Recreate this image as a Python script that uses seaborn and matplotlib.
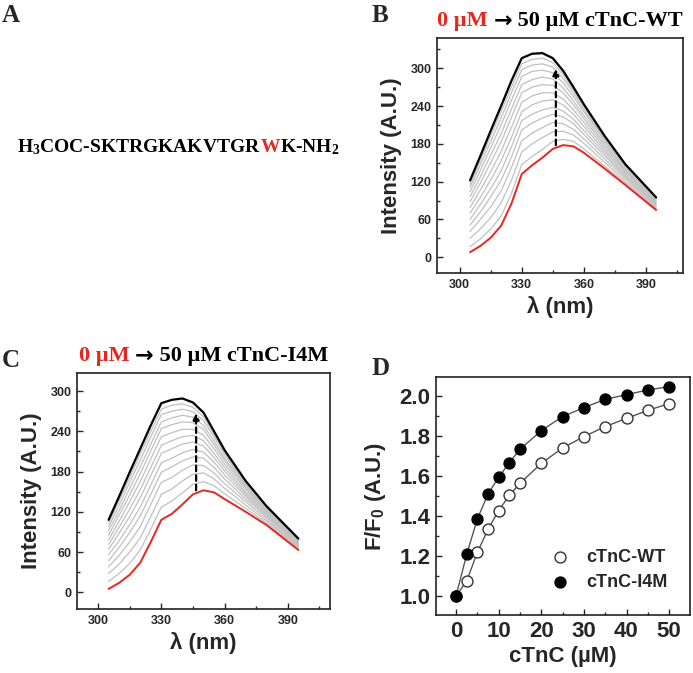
import pandas as pd
import seaborn as sns
import matplotlib.pyplot as plt
from matplotlib.ticker import MultipleLocator
from matplotlib.offsetbox import TextArea, HPacker, AnchoredOffsetbox

# wavelengths (nm) where the spectra were read
wavelength = [305, 310, 315, 320, 325, 330, 335, 340, 345, 350, 355, 360, 370, 380, 395]
# cTnC concentrations (uM) of the titration
titration = [0, 2.5, 5, 7.5, 10, 12.5, 15, 20, 25, 30, 35, 40, 45, 50]

# panel B, one row per concentration
wt_spectra = [
    [8, 18, 31, 50, 85, 132, 146, 158, 172, 178, 176, 166, 141, 115, 75],
    [17, 29, 45, 65, 101, 147, 160, 171, 184, 187, 184, 172, 145, 118, 77],
    [30, 45, 63, 86, 122, 167, 180, 190, 199, 200, 194, 181, 151, 121, 79],
    [41, 60, 80, 105, 142, 185, 197, 206, 214, 212, 203, 188, 156, 125, 81],
    [51, 72, 96, 122, 159, 202, 213, 221, 227, 223, 212, 195, 161, 128, 83],
    [60, 84, 109, 137, 175, 217, 227, 234, 238, 232, 219, 201, 165, 130, 84],
    [70, 95, 123, 153, 190, 231, 242, 248, 250, 242, 227, 208, 169, 133, 86],
    [79, 107, 136, 168, 206, 246, 256, 261, 261, 251, 234, 214, 173, 136, 87],
    [88, 118, 150, 183, 222, 261, 270, 274, 273, 261, 242, 220, 177, 138, 89],
    [96, 128, 162, 196, 235, 274, 282, 286, 283, 269, 248, 225, 181, 140, 90],
    [104, 138, 174, 210, 249, 287, 295, 297, 293, 277, 255, 231, 185, 143, 92],
    [111, 147, 184, 221, 261, 298, 305, 307, 302, 284, 261, 235, 188, 145, 93],
    [116, 154, 193, 231, 270, 307, 314, 316, 309, 290, 265, 239, 190, 146, 94],
    [122, 161, 201, 240, 280, 316, 323, 324, 316, 296, 270, 243, 193, 148, 95],
]

# panel C
i4m_spectra = [
    [5, 14, 26, 44, 75, 108, 117, 131, 146, 152, 149, 139, 120, 100, 63],
    [16, 28, 43, 63, 94, 127, 136, 148, 161, 165, 159, 147, 125, 103, 65],
    [28, 42, 60, 81, 113, 146, 154, 166, 176, 178, 169, 155, 130, 106, 67],
    [38, 55, 75, 98, 131, 164, 171, 182, 190, 189, 178, 162, 135, 109, 68],
    [47, 67, 89, 114, 146, 179, 187, 196, 202, 200, 186, 169, 139, 112, 70],
    [56, 77, 101, 127, 160, 193, 200, 208, 213, 209, 194, 175, 143, 114, 71],
    [64, 88, 113, 141, 174, 207, 214, 221, 224, 218, 201, 181, 146, 116, 73],
    [71, 97, 124, 153, 186, 219, 226, 232, 234, 226, 207, 186, 149, 118, 74],
    [78, 106, 135, 165, 199, 232, 238, 243, 243, 234, 214, 191, 153, 120, 75],
    [85, 115, 145, 177, 211, 244, 250, 254, 253, 243, 220, 196, 156, 122, 76],
    [92, 122, 155, 187, 221, 254, 260, 264, 261, 249, 225, 200, 159, 124, 77],
    [98, 130, 164, 197, 232, 265, 270, 273, 269, 256, 231, 205, 161, 125, 78],
    [103, 137, 171, 206, 240, 273, 279, 281, 276, 262, 235, 208, 164, 127, 79],
    [108, 143, 179, 214, 249, 282, 287, 289, 283, 268, 240, 212, 166, 128, 80],
]

# panel D, F/F0
wt_ratio = [1.00, 1.075, 1.218, 1.333, 1.427, 1.503, 1.563, 1.663, 1.740, 1.797, 1.847, 1.888, 1.928, 1.962]
i4m_ratio = [1.00, 1.208, 1.385, 1.510, 1.593, 1.667, 1.733, 1.827, 1.897, 1.942, 1.983, 2.007, 2.030, 2.047]

# dashed arrows (wavelength, from, to)
arrow_nm = 346.5
wt_arrow = (178, 299)
i4m_arrow = (152, 267)

RED = '#e8251f'
SERIF = ['Liberation Serif', 'DejaVu Serif']

sns.set_style('ticks')
plt.rcParams['font.family'] = ['Liberation Sans', 'DejaVu Sans']
plt.rcParams['font.weight'] = 'bold'
plt.rcParams['axes.labelweight'] = 'bold'
plt.rcParams['mathtext.default'] = 'regular'
plt.rcParams['axes.linewidth'] = 1.2
plt.rcParams['axes.edgecolor'] = '#222222'


def spectra_frame(spectra):
    rows = []
    for conc, curve in zip(titration, spectra):
        for nm, val in zip(wavelength, curve):
            rows.append((conc, nm, val))
    return pd.DataFrame(rows, columns=['conc', 'nm', 'intensity'])


def style_axes(ax, size):
    ax.tick_params(which='both', direction='in', top=False, right=False, width=1, labelsize=size, pad=4)
    ax.tick_params(which='major', length=4)
    ax.tick_params(which='minor', length=2.5)
    for s in ax.spines.values():
        s.set_visible(True)


def rainbow(ax, pieces, size, anchor, loc, transform):
    boxes = [TextArea(t, textprops=dict(color=c, fontsize=size, fontfamily=f, fontweight='bold'))
             for t, c, f in pieces]
    pack = HPacker(children=boxes, align='baseline', pad=0, sep=0)
    ab = AnchoredOffsetbox(loc=loc, child=pack, pad=0, borderpad=0, frameon=False,
                           bbox_to_anchor=anchor, bbox_transform=transform)
    ax.add_artist(ab)


def draw_spectra(ax, spectra, arrow, xlim, ylim, title):
    df = spectra_frame(spectra)
    mid = df[(df.conc > 0) & (df.conc < 50)]
    sns.lineplot(data=mid, x='nm', y='intensity', units='conc', estimator=None,
                 color='#c0c0c0', lw=0.9, ax=ax)
    sns.lineplot(data=df[df.conc == 0], x='nm', y='intensity', color=RED, lw=1.4, ax=ax)
    sns.lineplot(data=df[df.conc == 50], x='nm', y='intensity', color='black', lw=1.6, ax=ax)
    ax.annotate('', xy=(arrow_nm, arrow[1]), xytext=(arrow_nm, arrow[0]),
                arrowprops=dict(arrowstyle='-|>', color='black', lw=1.6, ls=(0, (2.5, 1.8)),
                                mutation_scale=9, shrinkA=0, shrinkB=0))
    ax.set_xlim(*xlim)
    ax.set_ylim(*ylim)
    ax.xaxis.set_major_locator(MultipleLocator(30))
    ax.xaxis.set_minor_locator(MultipleLocator(15))
    ax.yaxis.set_major_locator(MultipleLocator(60))
    ax.yaxis.set_minor_locator(MultipleLocator(30))
    style_axes(ax, 9)
    ax.set_xlabel('λ (nm)', fontsize=16, labelpad=4)
    ax.set_ylabel('Intensity (A.U.)', fontsize=16, labelpad=6)
    rainbow(ax, [('0 µM ', RED, SERIF),
                 ('→', 'black', ['DejaVu Sans']),
                 (' 50 µM ' + title, 'black', SERIF)], 16,
            (0.5, 1.028), 'lower center', ax.transAxes)


W, H = 693, 673
fig = plt.figure(figsize=(W / 100, H / 100), dpi=100)

axB = fig.add_axes([437 / W, 1 - 273 / H, 246 / W, 235 / H])
draw_spectra(axB, wt_spectra, wt_arrow, (289, 408), (-25, 348), 'cTnC-WT')

axC = fig.add_axes([77 / W, 1 - 609 / H, 253 / W, 236 / H])
draw_spectra(axC, i4m_spectra, i4m_arrow, (290, 410), (-25, 327), 'cTnC-I4M')

# panel D
axD = fig.add_axes([436 / W, 1 - 615 / H, 254 / W, 238 / H])
sns.lineplot(x=titration, y=wt_ratio, color='#555555', lw=1, ax=axD)
sns.lineplot(x=titration, y=i4m_ratio, color='#555555', lw=1, ax=axD)
sns.scatterplot(x=titration, y=wt_ratio, s=62, facecolor='white', edgecolor='#333333',
                linewidth=1, zorder=3, label='cTnC-WT', ax=axD)
sns.scatterplot(x=titration, y=i4m_ratio, s=62, color='black', edgecolor='black',
                linewidth=1, zorder=4, label='cTnC-I4M', ax=axD)
axD.set_xlim(-4.7, 54.9)
axD.set_ylim(0.905, 2.095)
axD.xaxis.set_major_locator(MultipleLocator(10))
axD.xaxis.set_minor_locator(MultipleLocator(5))
axD.yaxis.set_major_locator(MultipleLocator(0.2))
axD.yaxis.set_minor_locator(MultipleLocator(0.1))
axD.yaxis.set_major_formatter(plt.FormatStrFormatter('%.1f'))
style_axes(axD, 16)
axD.set_xlabel('cTnC (µM)', fontsize=16, labelpad=3)
axD.set_ylabel('F/F$_0$ (A.U.)', fontsize=16, labelpad=8)
axD.legend(loc='lower right', bbox_to_anchor=(0.955, 0.055), frameon=False, fontsize=13,
           handletextpad=0.45, labelspacing=0.45, borderaxespad=0.2)

# panel letters
for x, y, s in [(2, 22, 'A'), (372, 22, 'B'), (2, 367, 'C'), (372, 375, 'D')]:
    fig.text(x / W, 1 - y / H, s, fontsize=18, fontfamily=SERIF, fontweight='bold', va='baseline')

# panel A sequence
rainbow(fig, [('H$_3$COC-SKTRGKAKVTGR', 'black', SERIF), ('W', RED, SERIF),
              ('K-NH$_2$', 'black', SERIF)], 14,
        (17 / W, 1 - 147 / H), 'center left', fig.transFigure)

fig.savefig('out.png', dpi=100)
